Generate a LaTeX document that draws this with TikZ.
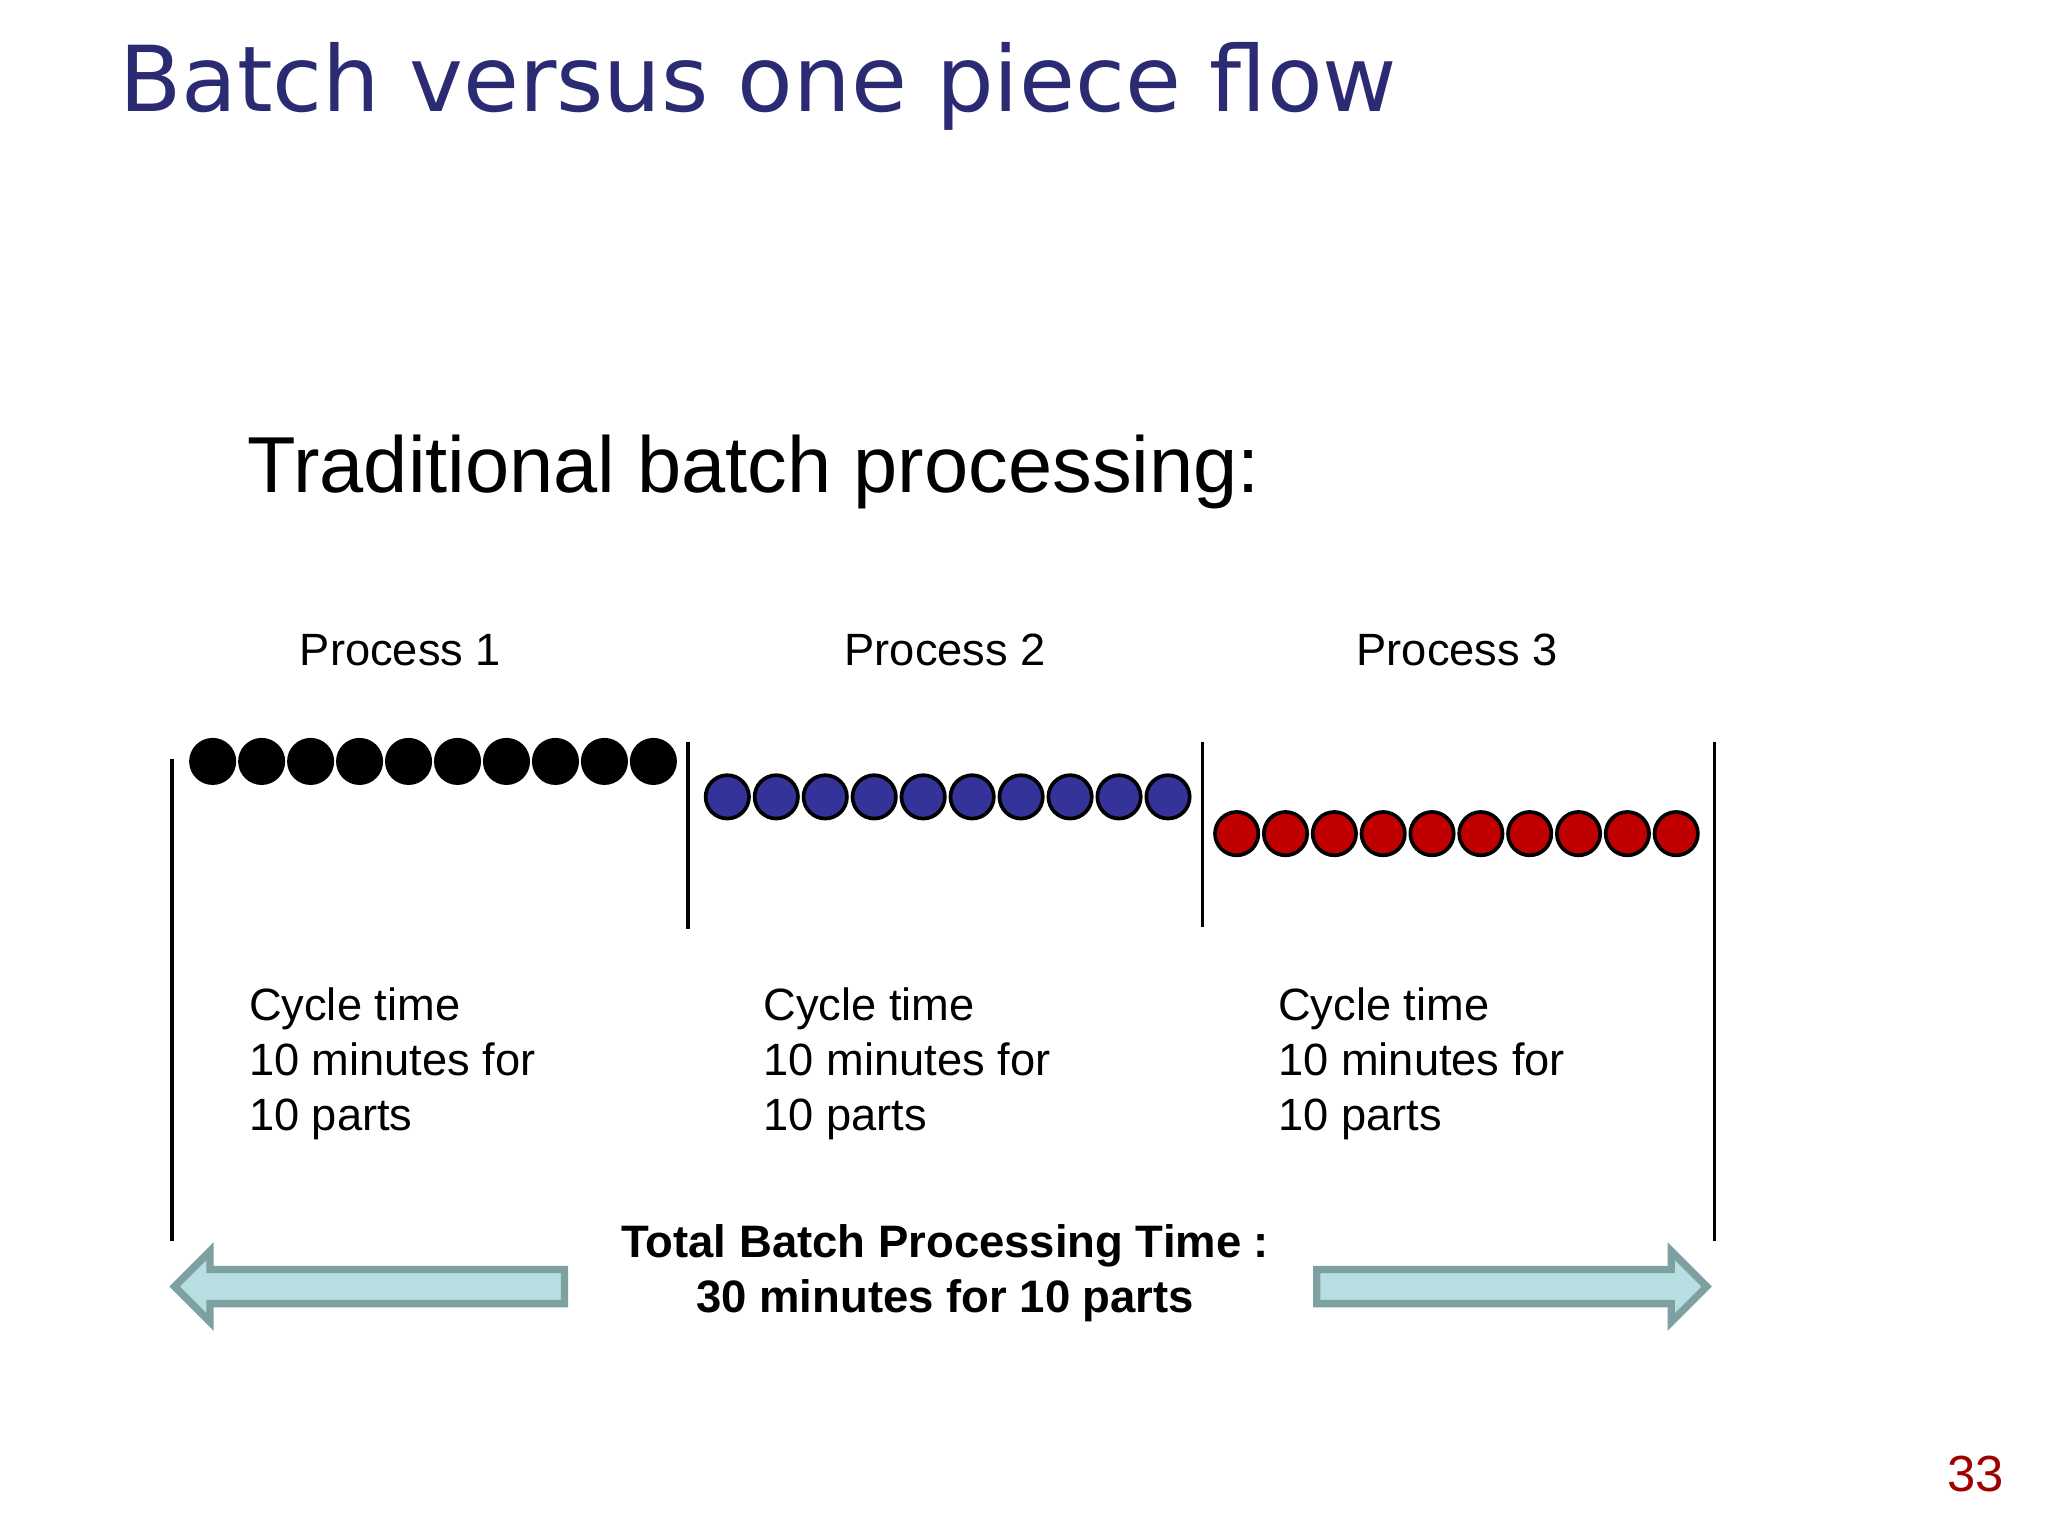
\documentclass[tikz,border=0pt]{standalone}
\usepackage{fontspec}
\setmainfont{Liberation Sans}
\newfontfamily\titlefont{DejaVu Sans}
\definecolor{navy}{RGB}{43,43,115}
\definecolor{bblue}{RGB}{51,51,153}
\definecolor{rred}{RGB}{192,0,0}
\definecolor{pgred}{RGB}{160,0,0}
\definecolor{arrfill}{RGB}{183,222,225}
\definecolor{arrdraw}{RGB}{125,160,160}
\begin{document}
\begin{tikzpicture}[x=0.01cm,y=-0.01cm,
  part/.style={circle,draw=black,line width=0.8pt,minimum size=0.33cm,inner sep=0pt},
  lbl/.style={font=\fontsize{9.8}{12}\selectfont,anchor=base},
  cyc/.style={font=\fontsize{9.8}{11.9}\selectfont,anchor=north west,align=left,inner sep=0pt},
  vline/.style={line width=0.7pt},
  fat/.style={fill=arrfill,draw=arrdraw,line width=1.6pt,line join=miter}]
\useasboundingbox (0,0) rectangle (1560,1170);
\node[anchor=base west,inner sep=0pt,text=navy,font=\titlefont\fontsize{19.7}{24}\selectfont] (title) at (90,85) {Batch versus one piece flow};
\node[anchor=base west,inner sep=0pt,font=\fontsize{17.2}{21}\selectfont] (sub) at (188,375) {Traditional batch processing:};
\node[lbl] (p1) at (305,507) {Process 1};
\node[lbl] (p2) at (720,507) {Process 2};
\node[lbl] (p3) at (1110,507) {Process 3};
\draw[vline] (131,578) coordinate (a1) -- (131,945) coordinate (a2);
\draw[vline] (524,565) coordinate (b1) -- (524,708) coordinate (b2);
\draw[vline] (916,565) coordinate (c1) -- (916,706) coordinate (c2);
\draw[vline] (1306,565) coordinate (d1) -- (1306,945) coordinate (d2);
\foreach \i in {0,...,9}{
  \node[part,fill=black] (k\i) at (162+37.3*\i,580) {};
  \node[part,fill=bblue] (u\i) at (554+37.3*\i,607) {};
  \node[part,fill=rred] (r\i) at (942+37.2*\i,635) {};
}
\node[cyc] (t1) at (189,752) {Cycle time\\10 minutes for\\10 parts};
\node[cyc] (t2) at (581,752) {Cycle time\\10 minutes for\\10 parts};
\node[cyc] (t3) at (973,752) {Cycle time\\10 minutes for\\10 parts};
\draw[fat] (133,980) coordinate (la) -- (160,953) -- (160,967) -- (430,967) -- (430,993) -- (160,993) -- (160,1007) -- cycle;
\draw[fat] (1300,980) coordinate (ra) -- (1273,953) -- (1273,967) -- (1003,967) -- (1003,993) -- (1273,993) -- (1273,1007) -- cycle;
\node[align=center,font=\bfseries\fontsize{9.85}{11.9}\selectfont] (tot) at (720,970) {Total Batch Processing Time :\\30 minutes for 10 parts};
\node[anchor=base,text=pgred,font=\fontsize{11}{13}\selectfont] (pg) at (1505,1136) {33};
\end{tikzpicture}
\end{document}
